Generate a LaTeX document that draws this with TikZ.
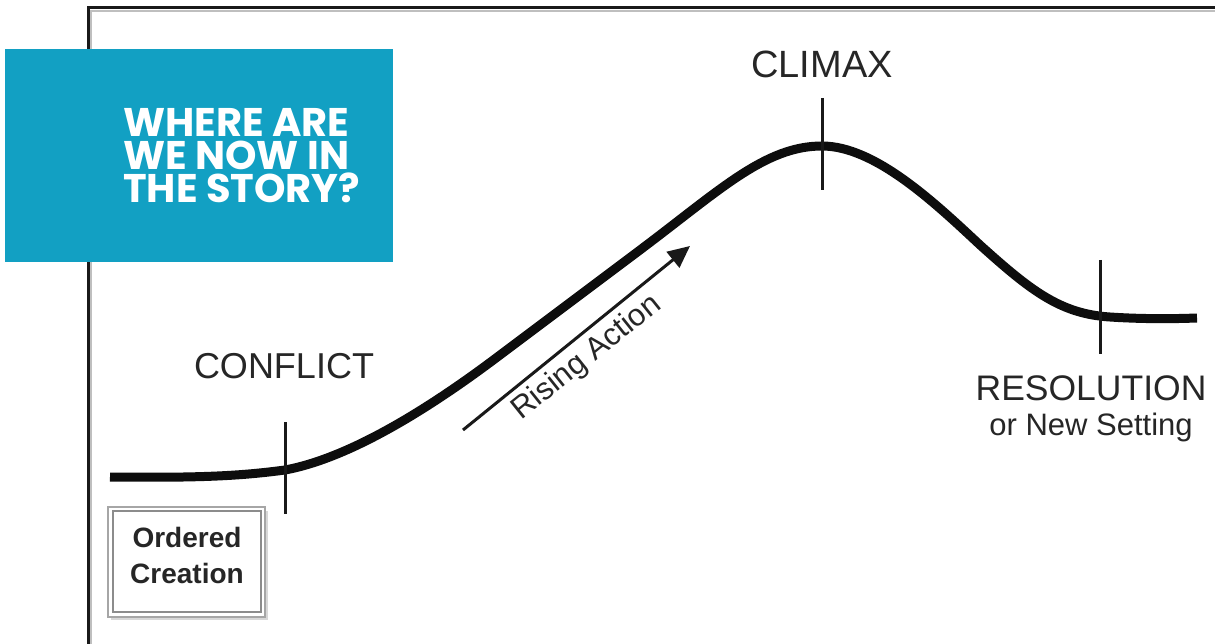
\documentclass[tikz,border=0pt]{standalone}
\usepackage{fontspec}
\setmainfont{Liberation Sans}
\newfontfamily\headfont{Poppins}
\usetikzlibrary{arrows.meta}
\definecolor{storyblue}{HTML}{12A0C3}
\definecolor{labelgray}{HTML}{262626}
\begin{document}
\begin{tikzpicture}[x=1pt,y=-1pt,
  tick/.style={line width=3pt, black!90},
  lbl/.style={anchor=base, inner sep=0pt, text=labelgray, font=\fontsize{36}{40}\selectfont},
  headline/.style={anchor=base west, inner sep=0pt, text=white, font=\headfont\bfseries\fontsize{40}{44}\selectfont}]
\useasboundingbox (0,0) rectangle (1215,644);
\fill[white] (0,0) rectangle (1215,644);
% frame
\draw[line width=2pt, black!25] (91,644) -- (91,11) -- (1215,11);
\draw[line width=3pt, black!90] (88,644) -- (88,8) -- (1215,8);
% story curve
\coordinate (p0) at (110,477);
\coordinate (p1) at (285,470);
\coordinate (p2) at (500,355);
\coordinate (p3) at (640,250);
\coordinate (p4) at (822,146);
\coordinate (p5) at (980,245);
\coordinate (p6) at (1110,317);
\coordinate (p7) at (1197,318);
\draw[line width=9pt, black!95]
  (p0) .. controls (200,478) and (240,476) .. (p1)
       .. controls (350,458) and (430,408) .. (p2)
       -- (p3)
       .. controls (720,190) and (765,146) .. (p4)
       .. controls (875,146) and (935,203) .. (p5)
       .. controls (1030,290) and (1060,314) .. (p6)
       .. controls (1140,319) and (1170,319) .. (p7);
% ticks
\coordinate (c1) at (285,422); \coordinate (c2) at (285,514);
\coordinate (m1) at (822,98);  \coordinate (m2) at (822,190);
\coordinate (r1) at (1100,260); \coordinate (r2) at (1100,354);
\draw[tick] (c1) -- (c2);
\draw[tick] (m1) -- (m2);
\draw[tick] (r1) -- (r2);
% labels
\node[lbl] (conflict) at (284,378) {CONFLICT};
\node[lbl, font=\fontsize{38}{42}\selectfont] (climax) at (822,78) {CLIMAX};
\node[lbl, font=\fontsize{35.5}{40}\selectfont] (resol) at (1091,400) {RESOLUTION};
\node[lbl, font=\fontsize{31}{34}\selectfont] (newset) at (1091,435) {or New Setting};
% rising action arrow
\coordinate (ra1) at (463,430);
\coordinate (ra2) at (690,246);
\draw[line width=3pt, black!90, -{Triangle[length=22pt,width=20pt]}] (ra1) -- (ra2);
\node[anchor=base, inner sep=0pt, text=labelgray, rotate=38.7, font=\fontsize{31}{33}\selectfont] (rising) at (592,364) {Rising Action};
% ordered creation box
\fill[black!30, opacity=0.5] (111,511) rectangle (268,620);
\draw[line width=2pt, black!35, fill=white] (108,507) rectangle (265,617);
\draw[line width=1.5pt, black!45] (113,511) rectangle (261,612);
\node[anchor=base, inner sep=0pt, text=labelgray, font=\bfseries\fontsize{28}{30}\selectfont] (ord) at (187,547) {Ordered};
\node[anchor=base, inner sep=0pt, text=labelgray, font=\bfseries\fontsize{28}{30}\selectfont] (cre) at (187,583) {Creation};
% blue box
\fill[storyblue] (5,49) rectangle (393,262);
\node[headline] (h1) at (123,137) {WHERE ARE};
\node[headline] (h2) at (123,170) {WE NOW IN};
\node[headline] (h3) at (123,203) {THE STORY?};
\end{tikzpicture}
\end{document}
